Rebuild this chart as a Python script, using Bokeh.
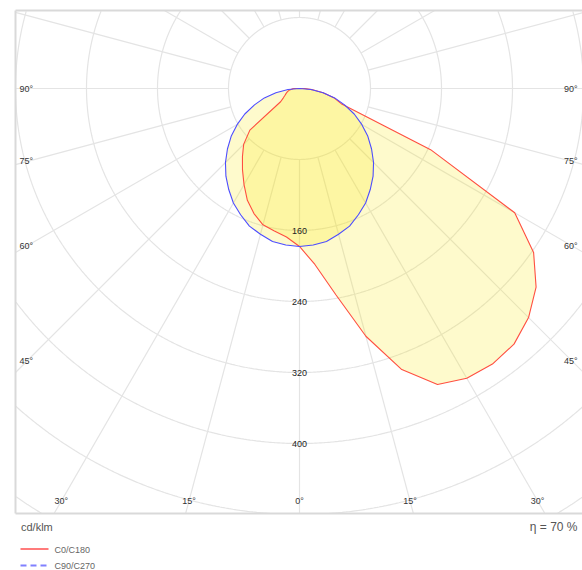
import numpy as np
from bokeh.plotting import figure
from bokeh.models import Range1d
from bokeh.core.properties import value
from bokeh.embed import file_html
from bokeh.resources import INLINE

# ---------------- data (cd/klm) ----------------
gamma = [0, 5, 10, 15, 20, 25, 30, 35, 40, 45, 50, 55, 60, 65, 70, 75, 80, 85, 90]
c0 = [178, 199, 236, 289, 337, 368, 377, 379, 376, 365, 348, 322, 280, 163, 50, 40, 27, 14, 6]
c180 = [178, 168, 163, 159, 150, 139, 125, 112, 100, 89, 73, 26, 21, 18, 16, 14, 12, 9, 7]
c90 = [178, 177, 175, 170, 165, 157, 149, 139, 129, 118, 106, 94, 81, 68, 54, 41, 27, 13, 0]
c270 = [178, 177, 175, 170, 165, 157, 149, 139, 129, 118, 106, 94, 81, 68, 54, 41, 27, 13, 0]

ring_values = [80, 160, 240, 320, 400, 480, 560]
ring_labels = [160, 240, 320, 400]
spoke_angles = list(range(0, 360, 15))
angle_ticks = [0, 15, 30, 45, 60, 75, 90]
unit_label = "cd/klm"
eta_label = "η = 70 %"
series_names = ["C0/C180", "C90/C270"]

FONT = value("Liberation Sans")
S = 71 / 80.0  # px per cd/klm

# page geometry (page px); the canvas starts at the page's top-left corner
M = 0
W, H = 582, 570
cx_px, cy_px = 299, 88
box_l, box_t, box_b = 15, 10, 513

def dx(px):
    return (px - cx_px) / S

def dy(py):
    return (cy_px - py) / S

x_range = Range1d(dx(M), dx(M + W))
y_range = Range1d(dy(M + H), dy(M))

p = figure(width=W, height=H, x_range=x_range, y_range=y_range,
           x_axis_type=None, y_axis_type=None, toolbar_location=None,
           output_backend="svg", min_border=0)
p.grid.visible = False
p.outline_line_color = None
p.background_fill_color = "white"
p.border_fill_color = "white"

XL, YT, YB = dx(box_l), dy(box_t), dy(box_b)
XR = dx(M + W) + 20

GRID = "#e4e4e4"
# rings, clipped to the chart box
phi = np.linspace(0, 2 * np.pi, 1441)
ring_x, ring_y = [], []
for r in ring_values:
    xs = r * np.cos(phi)
    ys = r * np.sin(phi)
    inside = (xs >= XL) & (ys <= YT) & (ys >= YB)
    ring_x.append(np.where(inside, xs, np.nan))
    ring_y.append(np.where(inside, ys, np.nan))
p.multi_line(ring_x, ring_y, line_color=GRID, line_width=1.2)

# spokes, clipped to the chart box
t = np.radians(spoke_angles)
ux, uy = np.sin(t), -np.cos(t)
r_end = []
for a, b in zip(ux, uy):
    cands = []
    if a < -1e-9:
        cands.append(XL / a)
    if a > 1e-9:
        cands.append(XR / a)
    if b > 1e-9:
        cands.append(YT / b)
    if b < -1e-9:
        cands.append(YB / b)
    r_end.append(min(cands))
r0 = ring_values[0]
r_end = np.array(r_end)
p.segment(x0=r0 * ux, y0=r0 * uy, x1=r_end * ux, y1=r_end * uy,
          line_color=GRID, line_width=1.2)

# curves
g = np.radians(gamma)
def curve(right, left):
    right = np.array(right, float)
    left = np.array(left, float)
    xs = np.concatenate([-(left * np.sin(g))[::-1], (right * np.sin(g))[1:]])
    ys = np.concatenate([-(left * np.cos(g))[::-1], -(right * np.cos(g))[1:]])
    return xs, ys

rx, ry = curve(c0, c180)
bx, by = curve(c90, c270)

FILL = "#f8e800"
p.patch(bx, by, fill_color=FILL, fill_alpha=0.2, line_color=None)
p.patch(rx, ry, fill_color=FILL, fill_alpha=0.2, line_color=None)
p.line(np.append(rx, rx[0]), np.append(ry, ry[0]), line_color="#ff4f40", line_width=1.1)
p.line(np.append(bx, bx[0]), np.append(by, by[0]), line_color="#4d4dff", line_width=1.1)

# ring value labels
p.text(x=[0] * len(ring_labels), y=[-v for v in ring_labels], text=[str(v) for v in ring_labels],
       text_font=FONT, text_font_size="9px", text_color="#222222",
       text_align="center", text_baseline="middle")

# angle labels
inset_x = (cx_px - 27) / S
inset_y = (500.5 - cy_px) / S
lx = dx(19)
rxa = dx(577)
bx_l, by_l, bt_l = [], [], []
sl_x, sl_y, sl_t = [], [], []
sr_x, sr_y, sr_t = [], [], []
for a in angle_ticks:
    tr = np.radians(a)
    txt = f"{a}°"
    if np.sin(tr) * inset_y < inset_x * np.cos(tr):
        xx = inset_y * np.tan(tr)
        bx_l.append(xx); by_l.append(-inset_y); bt_l.append(txt)
        if a != 0:
            bx_l.append(-xx); by_l.append(-inset_y); bt_l.append(txt)
    else:
        yy = -inset_x * np.cos(tr) / np.sin(tr)
        sl_x.append(lx); sl_y.append(yy); sl_t.append(txt)
        sr_x.append(rxa); sr_y.append(yy); sr_t.append(txt)

for xs_, ys_, ts_, al in [(bx_l, by_l, bt_l, "center"), (sl_x, sl_y, sl_t, "left"),
                          (sr_x, sr_y, sr_t, "right")]:
    p.text(x=xs_, y=ys_, text=ts_, text_font=FONT, text_font_size="9px",
           text_color="#333333", text_align=al, text_baseline="middle")

# chart box border (left, top, bottom)
BORDER = "#d9d9d9"
p.segment(x0=[XL, XL, XL], y0=[YB, YT, YB], x1=[XL, XR, XR], y1=[YT, YT, YB],
          line_color=BORDER, line_width=2)

# footer: units, efficiency, legend
p.text(x=[dx(20.5)], y=[dy(526)], text=[unit_label], text_font=FONT, text_font_size="11px",
       text_color="#555555", text_align="left", text_baseline="middle")
p.text(x=[dx(577)], y=[dy(526)], text=[eta_label], text_font=FONT, text_font_size="12px",
       text_color="#555555", text_align="right", text_baseline="middle")
p.line(x=[dx(20), dx(48)], y=[dy(548.5), dy(548.5)], line_color="#ff7b7b", line_width=2)
p.line(x=[dx(20), dx(48)], y=[dy(565), dy(565)], line_color="#8080ff", line_width=2,
       line_dash="6 4")
p.text(x=[dx(54), dx(54)], y=[dy(549.5), dy(565.5)], text=series_names, text_font=FONT,
       text_font_size="9px", text_color="#666666", text_align="left", text_baseline="middle")

open("out.html", "w").write(file_html(p, INLINE))
